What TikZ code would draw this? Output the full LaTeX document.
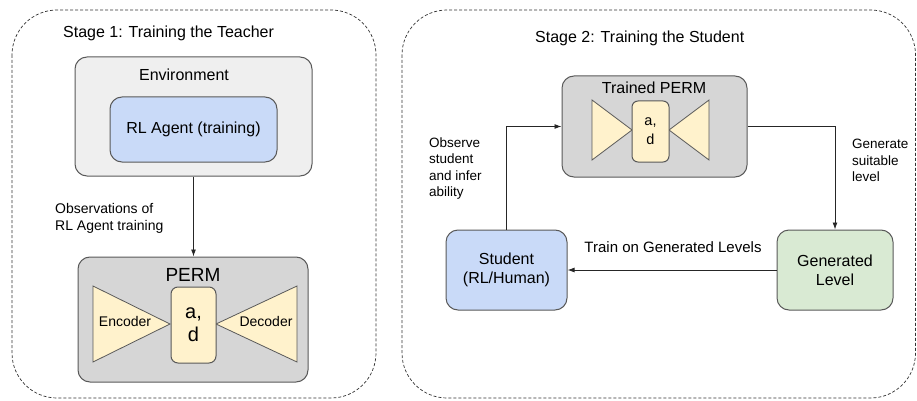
\documentclass[tikz,border=0pt]{standalone}
\usepackage{fontspec}
\setmainfont{Liberation Sans}
\usetikzlibrary{arrows.meta}
\definecolor{envgrey}{HTML}{EFEFEF}
\definecolor{permgrey}{HTML}{D6D6D6}
\definecolor{agentblue}{HTML}{C9DAF8}
\definecolor{codeyellow}{HTML}{FFF2CC}
\definecolor{levelgreen}{HTML}{D9EAD3}
\definecolor{edgegrey}{HTML}{595959}
\begin{document}
\begin{tikzpicture}[x=1pt, y=-1pt,
    box/.style={draw=edgegrey, line width=1pt, rounded corners=12pt, inner sep=0pt},
    code/.style={box, fill=codeyellow, rounded corners=7pt},
    wing/.style={draw=edgegrey, line width=0.8pt, fill=codeyellow},
    panel/.style={draw=black!80, dash pattern=on 3pt off 2pt, rounded corners=45pt, line width=0.7pt},
    flow/.style={draw=black!85, line width=0.9pt, -{Latex[length=7pt,width=5pt]}},
    txt/.style={inner sep=0pt, align=left, font=\fontsize{14}{17}\selectfont}]
      \useasboundingbox (0, 0) rectangle (917, 401);
      \draw[panel] (12, 10) rectangle (376, 398)
                   (402, 10) rectangle (915.5, 398);
      \node (title1) [txt, anchor=west, font=\fontsize{16}{19}\selectfont] at (63, 33) {Stage 1: Training the Teacher};
      \node (title2) [txt, anchor=west, font=\fontsize{16}{19}\selectfont] at (535, 38) {Stage 2: Training the Student};
      \node (env) [box, fill=envgrey, minimum width=237pt, minimum height=119pt] at (193.5, 116.5) {};
      \node (envlbl) [txt, font=\fontsize{16}{19}\selectfont] at (184, 75) {Environment};
      \node (agent) [box, fill=agentblue, minimum width=167pt, minimum height=65pt, font=\fontsize{16}{19}\selectfont] at (193.5, 129.5) {RL Agent (training)};
      \node (perm) [box, fill=permgrey, minimum width=230pt, minimum height=125pt] at (193, 319.5) {};
      \node (permlbl) [txt, font=\fontsize{19}{22}\selectfont] at (193, 275) {PERM};
      \draw[wing] (93, 286) -- (170, 324) -- (93, 362) -- cycle
                  (297, 286) -- (216, 324) -- (297, 362) -- cycle;
      \node (latent) [code, minimum width=45pt, minimum height=76pt, align=center, font=\fontsize{20}{23}\selectfont] at (193.5, 325) {a,\\d};
      \node (enc) [txt] at (125, 321) {Encoder};
      \node (dec) [txt] at (266, 321) {Decoder};
      \draw[flow] (env.south) -- (env.south |- perm.north);
      \node (obs) [txt, anchor=west] at (55, 218) {Observations of\\RL Agent training};
      \node (trained) [box, fill=permgrey, minimum width=185pt, minimum height=101pt] at (654.5, 126.5) {};
      \node (trainedlbl) [txt, font=\fontsize{16}{19}\selectfont] at (654, 88) {Trained PERM};
      \draw[wing] (592, 100) -- (632, 130) -- (592, 160) -- cycle
                  (709, 100) -- (669, 130) -- (709, 160) -- cycle;
      \node (latent2) [code, minimum width=37pt, minimum height=61pt, rounded corners=6pt, align=center, font=\fontsize{14.5}{19}\selectfont] at (650.5, 131.5) {a,\\d};
      \node (student) [box, fill=agentblue, minimum width=121pt, minimum height=80pt, align=center, font=\fontsize{16}{19}\selectfont] at (506.5, 270) {Student\\(RL/Human)};
      \node (level) [box, fill=levelgreen, minimum width=116pt, minimum height=80pt, align=center, font=\fontsize{16}{19}\selectfont] at (835, 270) {Generated\\Level};
      \draw[flow] (student.north) |- (trained.west);
      \draw[flow] (trained.east) -| (level.north);
      \draw[flow] (level.west) -- (student.east);
      \node (observe) [txt, anchor=west, font=\fontsize{13.5}{16.3}\selectfont] at (429, 168.5) {Observe\\student\\and infer\\ability};
      \node (generate) [txt, anchor=west, font=\fontsize{13.5}{16.3}\selectfont] at (852, 160.5) {Generate\\suitable\\level};
      \node (trainon) [txt, font=\fontsize{15}{18}\selectfont] at (673, 247) {Train on Generated Levels};
\end{tikzpicture}
\end{document}
